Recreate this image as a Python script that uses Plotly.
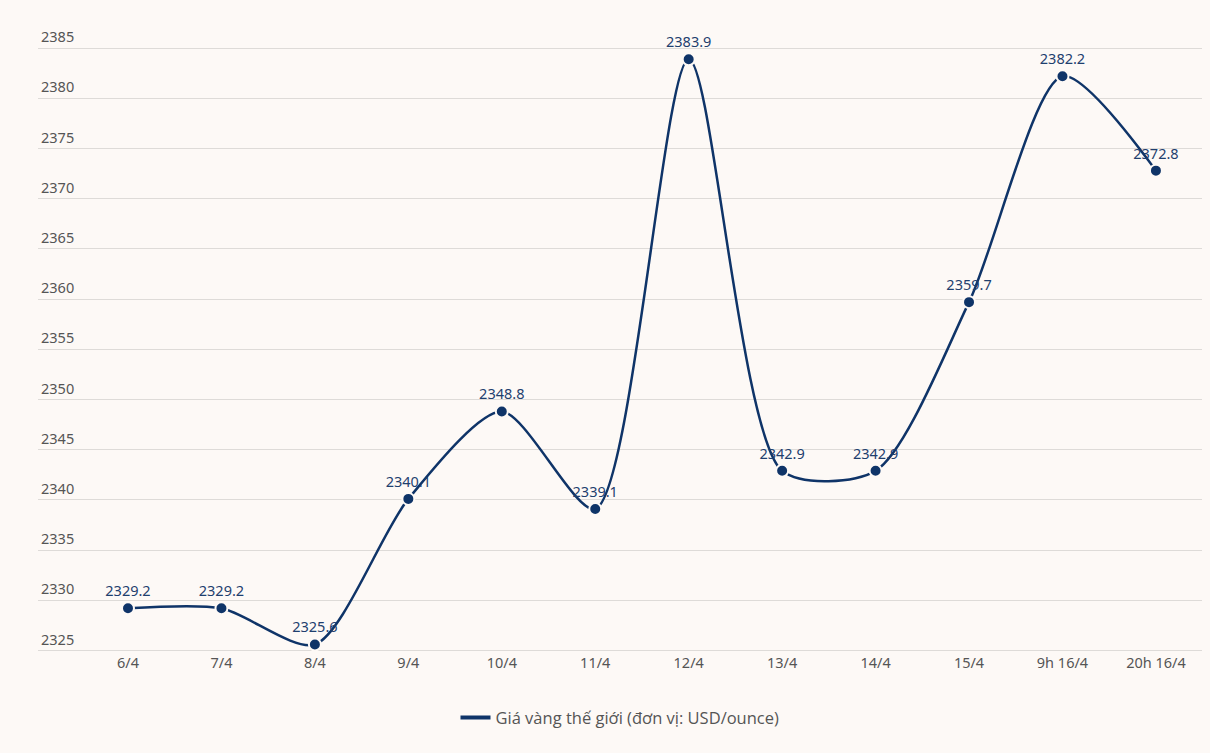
import plotly.graph_objects as go

categories = ["6/4", "7/4", "8/4", "9/4", "10/4", "11/4", "12/4", "13/4", "14/4", "15/4", "9h 16/4", "20h 16/4"]
prices = [2329.2, 2329.2, 2325.6, 2340.1, 2348.8, 2339.1, 2383.9, 2342.9, 2342.9, 2359.7, 2382.2, 2372.8]
y_ticks = [2325, 2330, 2335, 2340, 2345, 2350, 2355, 2360, 2365, 2370, 2375, 2380, 2385]
series_name = "Giá vàng thế giới (đơn vị: USD/ounce)"

BG = "#fdf9f6"
LINE = "#0f3468"
xs = list(range(len(categories)))

fig = go.Figure()
fig.add_trace(go.Scatter(
    x=xs,
    y=prices,
    mode="lines+markers+text",
    name=series_name,
    showlegend=False,
    line=dict(color=LINE, width=2.5, shape="spline", smoothing=0.75),
    marker=dict(color=LINE, size=12, line=dict(color=BG, width=2)),
    text=[f"{v:.1f}" for v in prices],
    textposition="top center",
    textfont=dict(family="Noto Sans", size=14.5, color="#1f3f6e"),
    cliponaxis=False,
))
fig.add_trace(go.Scatter(
    x=[None], y=[None], mode="lines", name=series_name,
    line=dict(color=LINE, width=4), showlegend=True,
))

fig.update_layout(
    width=1210, height=753,
    paper_bgcolor=BG, plot_bgcolor=BG,
    margin=dict(l=38, r=8, t=8, b=101),
    showlegend=True,
    legend=dict(orientation="h", x=0.5, xanchor="center", y=-0.075, yanchor="top",
                font=dict(family="Open Sans", size=16.5, color="#555555"),
                itemwidth=30),
    xaxis=dict(
        tickmode="array", tickvals=xs, ticktext=categories,
        range=[-0.963, 11.493], showgrid=False, zeroline=False,
        showline=False, ticks="",
        tickfont=dict(family="Noto Sans", size=14.5, color="#555555"),
    ),
    yaxis=dict(
        range=[2324.85, 2389], tickvals=y_ticks,
        showgrid=True, gridcolor="#dedbd8", gridwidth=1, zeroline=False,
        ticklabelposition="inside", ticklabelshift=-11, ticklabelstandoff=0,
        tickfont=dict(family="Noto Sans", size=14.5, color="#555555"),
    ),
)

fig.write_html(
    "out.html",
    config={"displayModeBar": False},
    post_script="document.body.style.margin='0';document.body.style.background='#fdf9f6';",
)
